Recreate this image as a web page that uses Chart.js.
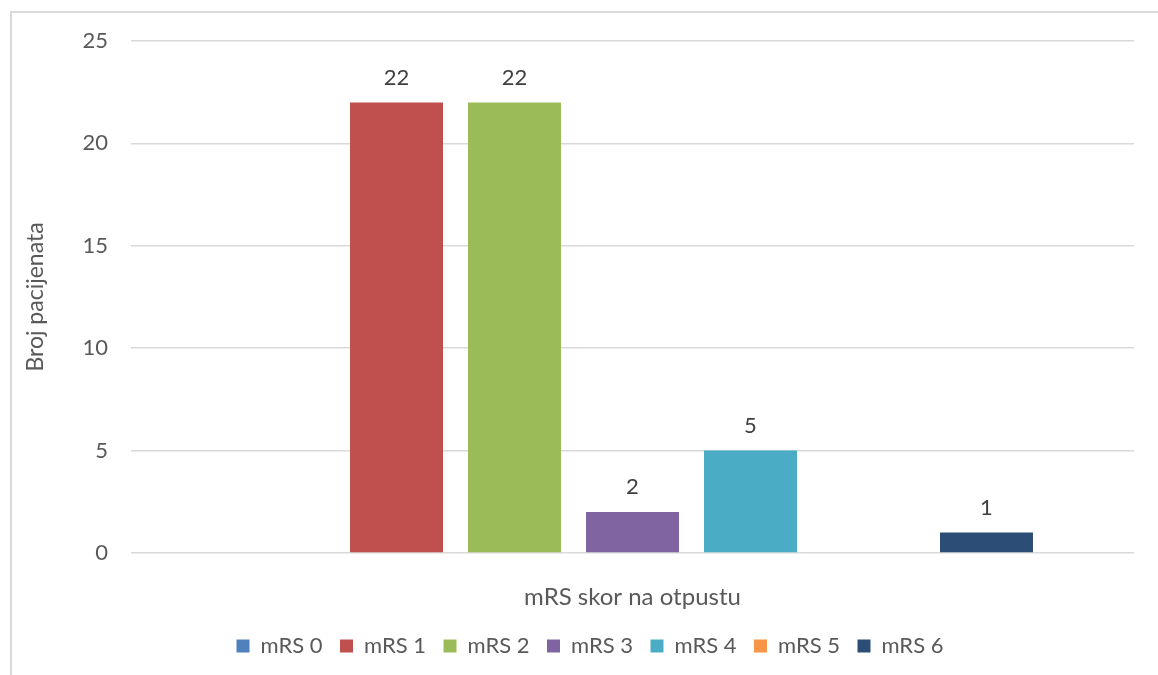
<!DOCTYPE html>
<html>
<head>
<meta charset="utf-8">
<script src="https://cdn.jsdelivr.net/npm/chart.js@4.4.1/dist/chart.umd.min.js"></script>
<style>
  html, body { margin: 0; padding: 0; background: #fff; overflow: hidden; }
  #wrap { position: relative; width: 1158px; height: 675px; }
  #frame { position: absolute; left: 10px; top: 11px; width: 1170px; height: 700px; border: 2px solid #d9d9d9; box-sizing: border-box; }
  #chart { position: absolute; left: 0; top: 0; }
</style>
</head>
<body>
<div id="wrap">
  <div id="frame"></div>
  <canvas id="chart" width="1158" height="675"></canvas>
</div>
<script>
  const seriesNames = ['mRS 0', 'mRS 1', 'mRS 2', 'mRS 3', 'mRS 4', 'mRS 5', 'mRS 6'];
  const counts = [0, 22, 22, 2, 5, 0, 1];
  const colors = ['#4f81bd', '#c0504d', '#9bbb59', '#8064a2', '#4bacc6', '#f79646', '#2c4d75'];
  const yTicks = [0, 5, 10, 15, 20, 25];

  const FONT = 'Lato, "Open Sans", sans-serif';
  const PAD_LEFT = 46;

  // value labels above every non-empty bar
  const valueLabels = {
    id: 'valueLabels',
    afterDatasetsDraw(chart) {
      const ctx = chart.ctx;
      ctx.save();
      ctx.font = '22px ' + FONT;
      ctx.fillStyle = '#404040';
      ctx.textAlign = 'center';
      ctx.textBaseline = 'middle';
      chart.data.datasets.forEach((ds, i) => {
        const meta = chart.getDatasetMeta(i);
        meta.data.forEach((bar, j) => {
          const v = ds.data[j];
          if (!v) return;
          ctx.fillText(String(v), bar.x, bar.y - 25);
        });
      });
      ctx.restore();
    }
  };

  new Chart(document.getElementById('chart'), {
    type: 'bar',
    data: {
      labels: [''],
      datasets: seriesNames.map((name, i) => ({
        label: name,
        data: [counts[i]],
        backgroundColor: colors[i],
        borderWidth: 0,
        categoryPercentage: 0.8235,
        barPercentage: 0.788
      }))
    },
    options: {
      responsive: false,
      animation: false,
      layout: { padding: { top: 41, right: 24, bottom: 8, left: PAD_LEFT } },
      plugins: {
        tooltip: { enabled: false },
        legend: {
          position: 'bottom',
          labels: {
            boxWidth: 13,
            boxHeight: 13,
            padding: 17.5,
            color: '#595959',
            font: { family: FONT, size: 22 }
          }
        }
      },
      scales: {
        x: {
          grid: { display: false },
          border: { display: false },
          ticks: { display: false },
          title: {
            display: true,
            text: 'mRS skor na otpustu',
            color: '#595959',
            font: { family: FONT, size: 24 },
            padding: { top: 6, bottom: 6 }
          },
          afterFit(scale) { scale.height = 64.5; }
        },
        y: {
          min: 0,
          max: 25,
          afterBuildTicks(scale) { scale.ticks = yTicks.map(v => ({ value: v })); },
          grid: { color: '#d9d9d9', lineWidth: 1.5, drawTicks: false },
          border: { display: false },
          ticks: {
            padding: 23,
            color: '#595959',
            font: { family: FONT, size: 22 }
          },
          title: {
            display: true,
            text: 'Broj pacijenata',
            color: '#595959',
            font: { family: FONT, size: 23 },
            // title sits left of the scale box, inside the layout padding
            padding: { top: -23.8, bottom: 0 }
          },
          afterFit(scale) { scale.width = 131 - PAD_LEFT; }
        }
      }
    },
    plugins: [valueLabels]
  });
</script>
</body>
</html>
